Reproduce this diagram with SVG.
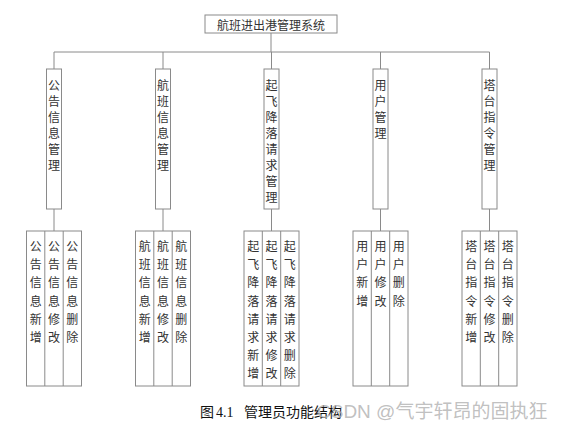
<svg xmlns="http://www.w3.org/2000/svg" width="563" height="429" viewBox="0 0 563 429">
<style>
.bx{fill:#fff;stroke:#8a8a8a;stroke-width:1}
.ln{fill:none;stroke:#8a8a8a;stroke-width:1}
.t{font-family:"Noto Sans CJK SC","Noto Sans",sans-serif;font-size:12px;fill:#333;text-anchor:middle;dominant-baseline:central}
.cap{font-family:"Noto Sans CJK SC",sans-serif;font-size:14px;fill:#111}
.num{font-family:"Liberation Serif",serif;font-size:14px;fill:#111}
.wm{font-family:"Liberation Sans","Noto Sans CJK SC",sans-serif;font-size:19px;fill:#b0b0b0;fill-opacity:0.8}
</style>
<rect width="563" height="429" fill="#fff"/>
<g id="connectors">
<path class="ln" d="M271,33V52M54,52H489.5M54,52V69M163,52V69M271.5,52V69M380.5,52V69M489.5,52V69"/>
<path class="ln" d="M54,209V231M163,209V231M271.5,209V231M380.5,209V231M489.5,209V231"/>
</g>
<g id="root">
<rect class="bx" x="205" y="15" width="132" height="18"/>
<text class="t" x="271" y="24">航班进出港管理系统</text>
</g>
<g id="n1">
<rect class="bx" x="46.5" y="69" width="15" height="140"/>
<text class="t"><tspan x="54" y="84">公</tspan><tspan x="54" y="100">告</tspan><tspan x="54" y="116">信</tspan><tspan x="54" y="132">息</tspan><tspan x="54" y="148">管</tspan><tspan x="54" y="164">理</tspan></text>
</g>
<g id="n2">
<rect class="bx" x="155.5" y="69" width="15" height="140"/>
<text class="t"><tspan x="163" y="84">航</tspan><tspan x="163" y="100">班</tspan><tspan x="163" y="116">信</tspan><tspan x="163" y="132">息</tspan><tspan x="163" y="148">管</tspan><tspan x="163" y="164">理</tspan></text>
</g>
<g id="n3">
<rect class="bx" x="264" y="69" width="15" height="140"/>
<text class="t"><tspan x="271.5" y="84">起</tspan><tspan x="271.5" y="100">飞</tspan><tspan x="271.5" y="116">降</tspan><tspan x="271.5" y="132">落</tspan><tspan x="271.5" y="148">请</tspan><tspan x="271.5" y="164">求</tspan><tspan x="271.5" y="180">管</tspan><tspan x="271.5" y="196">理</tspan></text>
</g>
<g id="n4">
<rect class="bx" x="373" y="69" width="15" height="140"/>
<text class="t"><tspan x="380.5" y="84">用</tspan><tspan x="380.5" y="100">户</tspan><tspan x="380.5" y="116">管</tspan><tspan x="380.5" y="132">理</tspan></text>
</g>
<g id="n5">
<rect class="bx" x="482" y="69" width="15" height="140"/>
<text class="t"><tspan x="489.5" y="84">塔</tspan><tspan x="489.5" y="100">台</tspan><tspan x="489.5" y="116">指</tspan><tspan x="489.5" y="132">令</tspan><tspan x="489.5" y="148">管</tspan><tspan x="489.5" y="164">理</tspan></text>
</g>
<g id="leaf1">
<rect class="bx" x="26.5" y="231" width="55" height="155"/>
<path class="ln" d="M44.8,231V386M63.2,231V386"/>
<text class="t"><tspan x="35.7" y="245">公</tspan><tspan x="35.7" y="263.2">告</tspan><tspan x="35.7" y="281.4">信</tspan><tspan x="35.7" y="299.6">息</tspan><tspan x="35.7" y="317.8">新</tspan><tspan x="35.7" y="336">增</tspan></text>
<text class="t"><tspan x="54" y="245">公</tspan><tspan x="54" y="263.2">告</tspan><tspan x="54" y="281.4">信</tspan><tspan x="54" y="299.6">息</tspan><tspan x="54" y="317.8">修</tspan><tspan x="54" y="336">改</tspan></text>
<text class="t"><tspan x="72.3" y="245">公</tspan><tspan x="72.3" y="263.2">告</tspan><tspan x="72.3" y="281.4">信</tspan><tspan x="72.3" y="299.6">息</tspan><tspan x="72.3" y="317.8">删</tspan><tspan x="72.3" y="336">除</tspan></text>
</g>
<g id="leaf2">
<rect class="bx" x="135.5" y="231" width="55" height="155"/>
<path class="ln" d="M153.8,231V386M172.2,231V386"/>
<text class="t"><tspan x="144.7" y="245">航</tspan><tspan x="144.7" y="263.2">班</tspan><tspan x="144.7" y="281.4">信</tspan><tspan x="144.7" y="299.6">息</tspan><tspan x="144.7" y="317.8">新</tspan><tspan x="144.7" y="336">增</tspan></text>
<text class="t"><tspan x="163" y="245">航</tspan><tspan x="163" y="263.2">班</tspan><tspan x="163" y="281.4">信</tspan><tspan x="163" y="299.6">息</tspan><tspan x="163" y="317.8">修</tspan><tspan x="163" y="336">改</tspan></text>
<text class="t"><tspan x="181.3" y="245">航</tspan><tspan x="181.3" y="263.2">班</tspan><tspan x="181.3" y="281.4">信</tspan><tspan x="181.3" y="299.6">息</tspan><tspan x="181.3" y="317.8">删</tspan><tspan x="181.3" y="336">除</tspan></text>
</g>
<g id="leaf3">
<rect class="bx" x="244" y="231" width="55" height="155"/>
<path class="ln" d="M262.3,231V386M280.7,231V386"/>
<text class="t"><tspan x="253.2" y="245">起</tspan><tspan x="253.2" y="263.2">飞</tspan><tspan x="253.2" y="281.4">降</tspan><tspan x="253.2" y="299.6">落</tspan><tspan x="253.2" y="317.8">请</tspan><tspan x="253.2" y="336">求</tspan><tspan x="253.2" y="354.2">新</tspan><tspan x="253.2" y="372.4">增</tspan></text>
<text class="t"><tspan x="271.5" y="245">起</tspan><tspan x="271.5" y="263.2">飞</tspan><tspan x="271.5" y="281.4">降</tspan><tspan x="271.5" y="299.6">落</tspan><tspan x="271.5" y="317.8">请</tspan><tspan x="271.5" y="336">求</tspan><tspan x="271.5" y="354.2">修</tspan><tspan x="271.5" y="372.4">改</tspan></text>
<text class="t"><tspan x="289.8" y="245">起</tspan><tspan x="289.8" y="263.2">飞</tspan><tspan x="289.8" y="281.4">降</tspan><tspan x="289.8" y="299.6">落</tspan><tspan x="289.8" y="317.8">请</tspan><tspan x="289.8" y="336">求</tspan><tspan x="289.8" y="354.2">删</tspan><tspan x="289.8" y="372.4">除</tspan></text>
</g>
<g id="leaf4">
<rect class="bx" x="353" y="231" width="55" height="155"/>
<path class="ln" d="M371.3,231V386M389.7,231V386"/>
<text class="t"><tspan x="362.2" y="245">用</tspan><tspan x="362.2" y="263.2">户</tspan><tspan x="362.2" y="281.4">新</tspan><tspan x="362.2" y="299.6">增</tspan></text>
<text class="t"><tspan x="380.5" y="245">用</tspan><tspan x="380.5" y="263.2">户</tspan><tspan x="380.5" y="281.4">修</tspan><tspan x="380.5" y="299.6">改</tspan></text>
<text class="t"><tspan x="398.8" y="245">用</tspan><tspan x="398.8" y="263.2">户</tspan><tspan x="398.8" y="281.4">删</tspan><tspan x="398.8" y="299.6">除</tspan></text>
</g>
<g id="leaf5">
<rect class="bx" x="462" y="231" width="55" height="155"/>
<path class="ln" d="M480.3,231V386M498.7,231V386"/>
<text class="t"><tspan x="471.2" y="245">塔</tspan><tspan x="471.2" y="263.2">台</tspan><tspan x="471.2" y="281.4">指</tspan><tspan x="471.2" y="299.6">令</tspan><tspan x="471.2" y="317.8">新</tspan><tspan x="471.2" y="336">增</tspan></text>
<text class="t"><tspan x="489.5" y="245">塔</tspan><tspan x="489.5" y="263.2">台</tspan><tspan x="489.5" y="281.4">指</tspan><tspan x="489.5" y="299.6">令</tspan><tspan x="489.5" y="317.8">修</tspan><tspan x="489.5" y="336">改</tspan></text>
<text class="t"><tspan x="507.8" y="245">塔</tspan><tspan x="507.8" y="263.2">台</tspan><tspan x="507.8" y="281.4">指</tspan><tspan x="507.8" y="299.6">令</tspan><tspan x="507.8" y="317.8">删</tspan><tspan x="507.8" y="336">除</tspan></text>
</g>
<g id="caption">
<text class="cap" x="200" y="417">图</text>
<text class="num" x="216" y="417">4.1</text>
<text class="cap" x="244" y="417">管理员功能结构</text>
</g>
<text class="wm" x="317" y="418">CSDN @气宇轩昂的固执狂</text>
</svg>
